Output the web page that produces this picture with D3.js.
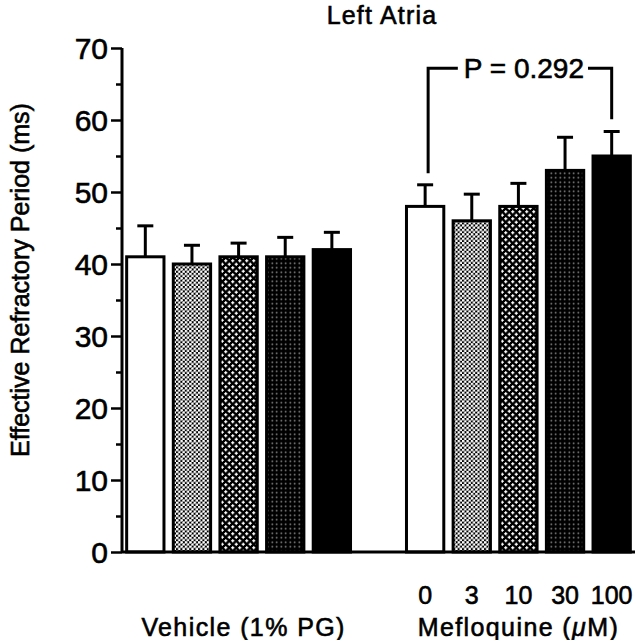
<!DOCTYPE html>
<html>
<head>
<meta charset="utf-8">
<script src="https://cdn.jsdelivr.net/npm/d3@7"></script>
<style>
  body { margin: 0; background: #fff; }
  svg text { font-family: "Liberation Sans", Arial, sans-serif; fill: #000; stroke: #000; stroke-width: 0.6px; }
</style>
</head>
<body>
<svg id="chart" width="635" height="640"></svg>
<script>
// data
const groups = ['Vehicle (1% PG)', 'Mefloquine'];
const doses = ['0', '3', '10', '30', '100'];
const vehicleMean = [41, 40, 41, 41, 42];
const vehicleErr = [4.3, 2.6, 1.9, 2.7, 2.4];
const mefMean = [48, 46, 48, 53, 55];
const mefErr = [3.0, 3.7, 3.2, 4.6, 3.4];
const yTicks = [0, 10, 20, 30, 40, 50, 60, 70];
const yMinor = [5, 15, 25, 35, 45, 55, 65];
const fills = ['white', 'url(#dots)', 'url(#cross)', 'url(#dark)', 'black'];
const pLabel = 'P = 0.292';
const bracket = { top: 67.2, left: 52.6, right: 60.1 };

const svg = d3.select('#chart');
const margin = { top: 48, left: 122, bottom: 88, right: 0 };
const height = 640 - margin.top - margin.bottom;

// slots: 5 vehicle bars, an empty slot, 5 mefloquine bars
const slots = [];
doses.forEach((d, i) => slots.push({ key: 'v' + i, group: 0, i: i, value: vehicleMean[i], err: vehicleErr[i] }));
slots.push({ key: 'gap' });
doses.forEach((d, i) => slots.push({ key: 'm' + i, group: 1, i: i, value: mefMean[i], err: mefErr[i] }));
const bars = slots.filter(s => s.key !== 'gap');

const x = d3.scaleBand()
    .domain(slots.map(s => s.key))
    .range([margin.left, 635])
    .paddingInner(0.2)
    .paddingOuter(0.1);
const y = d3.scaleLinear()
    .domain([0, 70])
    .range([margin.top + height, margin.top]);

// fill patterns
const defs = svg.append('defs');
let p = defs.append('pattern').attr('id', 'dots').attr('patternUnits', 'userSpaceOnUse')
    .attr('width', 4.4).attr('height', 4.4);
p.append('rect').attr('width', 4.4).attr('height', 4.4).attr('fill', 'black');
p.append('circle').attr('cx', 1.1).attr('cy', 1.1).attr('r', 1.4).attr('fill', 'white');
p.append('circle').attr('cx', 3.3).attr('cy', 3.3).attr('r', 1.4).attr('fill', 'white');

p = defs.append('pattern').attr('id', 'cross').attr('patternUnits', 'userSpaceOnUse')
    .attr('width', 7).attr('height', 7);
p.append('rect').attr('width', 7).attr('height', 7).attr('fill', 'black');
[[1.75, 1.75], [5.25, 5.25]].forEach(c => {
    p.append('rect').attr('x', c[0] - 1.6).attr('y', c[1] - 0.6).attr('width', 3.2).attr('height', 1.2).attr('fill', 'white');
    p.append('rect').attr('x', c[0] - 0.6).attr('y', c[1] - 1.6).attr('width', 1.2).attr('height', 3.2).attr('fill', 'white');
});

p = defs.append('pattern').attr('id', 'dark').attr('patternUnits', 'userSpaceOnUse')
    .attr('width', 4.5).attr('height', 4.5);
p.append('rect').attr('width', 4.5).attr('height', 4.5).attr('fill', 'black');
p.append('circle').attr('cx', 2.25).attr('cy', 2.25).attr('r', 0.8).attr('fill', '#9a9a9a');

// title
svg.append('text')
    .attr('x', 382).attr('y', 24)
    .attr('text-anchor', 'middle')
    .style('font-size', '25px')
    .style('letter-spacing', '1.2px')
    .text('Left Atria');

// error bars (drawn first, bars cover the lower part)
const eb = svg.append('g').attr('stroke', 'black').attr('stroke-width', 3);
eb.selectAll('line.stem')
    .data(bars).enter().append('line')
    .attr('x1', d => x(d.key) + x.bandwidth() / 2)
    .attr('x2', d => x(d.key) + x.bandwidth() / 2)
    .attr('y1', d => y(d.value))
    .attr('y2', d => y(d.value + d.err));
eb.selectAll('line.cap')
    .data(bars).enter().append('line')
    .attr('x1', d => x(d.key) + x.bandwidth() / 2 - 8)
    .attr('x2', d => x(d.key) + x.bandwidth() / 2 + 8)
    .attr('y1', d => y(d.value + d.err))
    .attr('y2', d => y(d.value + d.err));

// bars
svg.selectAll('.bar')
    .data(bars).enter()
    .append('rect')
    .classed('bar', true)
    .attr('x', d => x(d.key))
    .attr('width', x.bandwidth())
    .attr('y', d => y(d.value))
    .attr('height', d => y(0) - y(d.value))
    .attr('fill', d => fills[d.i])
    .attr('stroke', 'black')
    .attr('stroke-width', 3);

// axes
const yAxis = svg.append('g')
    .attr('transform', `translate(${margin.left},0)`)
    .call(d3.axisLeft(y).tickValues(yTicks).tickSize(11).tickPadding(3).tickFormat(d3.format('d')));
yAxis.select('.domain').attr('stroke-width', 3).attr('d', `M0,${y(0)}V${y(70)}`);
yAxis.selectAll('.tick line').attr('stroke-width', 2.5);
yAxis.selectAll('.tick text')
    .style('font-size', '30px')
    .attr('dy', '0.36em')
    .style('font-family', '"Liberation Sans", Arial, sans-serif');

const yMinorAxis = svg.append('g')
    .attr('transform', `translate(${margin.left},0)`)
    .call(d3.axisLeft(y).tickValues(yMinor).tickSize(6).tickFormat(''));
yMinorAxis.select('.domain').remove();
yMinorAxis.selectAll('.tick line').attr('stroke-width', 2.5);

svg.append('line')
    .attr('x1', margin.left).attr('x2', 635)
    .attr('y1', y(0)).attr('y2', y(0))
    .attr('stroke', 'black').attr('stroke-width', 3);

// y axis title
svg.append('text')
    .attr('transform', `translate(29,${y(35) - 20}) rotate(-90)`)
    .attr('text-anchor', 'middle')
    .style('font-size', '25px')
    .text('Effective Refractory Period (ms)');

// dose labels
const mefBars = bars.filter(d => d.group === 1);
svg.selectAll('.dose')
    .data(mefBars).enter()
    .append('text')
    .attr('x', d => x(d.key) + x.bandwidth() / 2)
    .attr('y', 604)
    .attr('text-anchor', 'middle')
    .style('font-size', '25px')
    .text(d => doses[d.i]);

// group labels
const vehBars = bars.filter(d => d.group === 0);
const center = arr => (x(arr[0].key) + x(arr[arr.length - 1].key) + x.bandwidth()) / 2;
svg.append('text')
    .attr('x', center(vehBars) + 5).attr('y', 636)
    .attr('text-anchor', 'middle')
    .style('font-size', '25px')
    .style('letter-spacing', '1.4px')
    .text(groups[0]);
const mefText = svg.append('text')
    .attr('x', center(mefBars)).attr('y', 636)
    .attr('text-anchor', 'middle')
    .style('font-size', '25px')
    .style('letter-spacing', '1.4px');
mefText.append('tspan').text(groups[1] + ' (');
mefText.append('tspan').style('font-style', 'italic').text('\u03bc');
mefText.append('tspan').text('M)');

// significance bracket
const bx1 = x(mefBars[0].key) + x.bandwidth() / 2 + 3;
const bx2 = x(mefBars[4].key) + x.bandwidth() / 2;
const pText = svg.append('text')
    .attr('x', (bx1 + bx2) / 2 + 4).attr('y', y(bracket.top) + 10)
    .attr('text-anchor', 'middle')
    .style('font-size', '28px')
    .text(pLabel);
const bb = pText.node().getBBox();
const br = svg.append('g').attr('stroke', 'black').attr('stroke-width', 3).attr('fill', 'none');
br.append('path')
    .attr('d', `M${bx1},${y(bracket.left)}V${y(bracket.top)}H${bb.x - 6}`);
br.append('path')
    .attr('d', `M${bb.x + bb.width + 4},${y(bracket.top)}H${bx2}V${y(bracket.right)}`);
</script>
</body>
</html>
